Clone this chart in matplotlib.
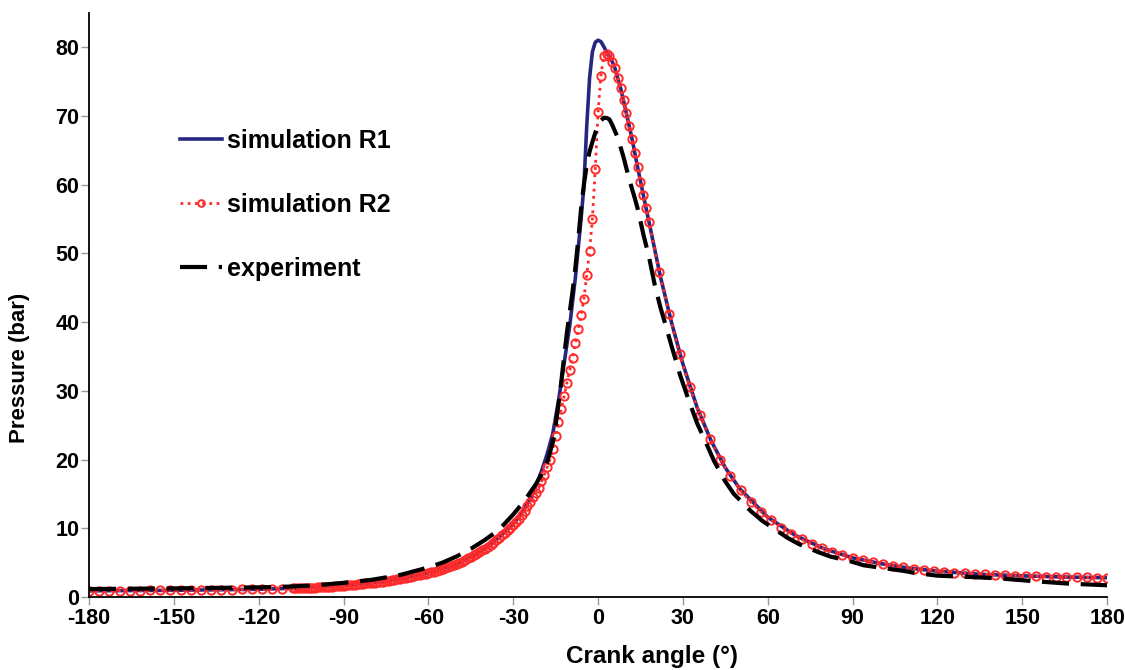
import numpy as np
import matplotlib
matplotlib.use("Agg")
import matplotlib.pyplot as plt

# --- data ------------------------------------------------------------------
# simulation R1 (solid line)
r1_angle = [-180, -150, -120, -105, -90, -80, -70, -60, -50, -45, -40, -36, -32, -29,
            -26, -24, -22, -20, -18, -16, -14, -12, -10, -8, -7, -6, -5, -4, -3, -2,
            -1, 0, 1, 2, 3, 4, 5, 6, 8, 10, 12, 14, 16, 18, 22, 26, 30, 35, 40, 45,
            50, 60, 70, 80, 90, 100, 110, 120, 135, 150, 165, 180]
r1_p = [0.9, 0.97, 1.12, 1.3, 1.68, 2.05, 2.65, 3.5, 4.75, 5.8, 7.0, 8.3, 9.8, 11.1,
        12.9, 14.2, 16.2, 18.3, 20.8, 23.8, 28.5, 34.0, 39.5, 46.5, 50.8, 55.0, 59.8,
        68.5, 75.5, 79.3, 80.7, 81.0, 80.8, 80.1, 79.3, 78.6, 77.9, 76.9, 74.0, 70.4,
        66.7, 62.5, 58.5, 54.6, 46.7, 39.9, 33.9, 27.6, 22.7, 18.8, 15.8, 11.6, 8.9,
        7.0, 5.7, 4.85, 4.2, 3.75, 3.3, 3.07, 2.9, 2.8]

# simulation R2 (dotted line + markers): coarse left tail, 1 deg around TDC, coarse right tail
r2_angle_left = np.round(np.arange(-180, -107.9, 3.6), 1)
r2_p_left = [0.90, 0.90, 0.91, 0.92, 0.93, 0.94, 0.95, 0.96, 0.97, 0.98, 1.00,
             1.01, 1.03, 1.05, 1.07, 1.09, 1.11, 1.14, 1.17, 1.20, 1.24]
r2_angle_mid = np.arange(-107, 19, 1)
r2_p_mid = [
    # -107 .. -98
    1.25, 1.27, 1.29, 1.31, 1.32, 1.34, 1.35, 1.37, 1.39, 1.41,
    # -97 .. -88
    1.43, 1.45, 1.48, 1.51, 1.54, 1.57, 1.60, 1.64, 1.68, 1.72,
    # -87 .. -78
    1.76, 1.80, 1.85, 1.89, 1.93, 1.97, 2.01, 2.05, 2.10, 2.15,
    # -77 .. -68
    2.20, 2.25, 2.30, 2.36, 2.43, 2.50, 2.57, 2.65, 2.73, 2.81,
    # -67 .. -58
    2.89, 2.97, 3.05, 3.14, 3.23, 3.32, 3.41, 3.50, 3.60, 3.70,
    # -57 .. -48
    3.80, 3.90, 4.00, 4.15, 4.30, 4.45, 4.60, 4.75, 4.95, 5.15,
    # -47 .. -38
    5.40, 5.60, 5.80, 6.05, 6.30, 6.55, 6.80, 7.00, 7.30, 7.60,
    # -37 .. -28
    7.90, 8.25, 8.60, 8.95, 9.30, 9.70, 10.1, 10.5, 10.9, 11.4,
    # -27 .. -18
    11.9, 12.5, 13.2, 13.8, 14.5, 15.1, 15.8, 16.8, 17.8, 18.9,
    # -17 .. -8
    20.0, 21.6, 23.4, 25.4, 27.4, 29.2, 31.2, 33.0, 34.8, 37.0,
    # -7 .. 2
    39.0, 41.0, 43.4, 46.9, 50.3, 55.0, 62.2, 70.5, 75.8, 78.7,
    # 3 .. 12
    79.0, 78.7, 77.9, 76.9, 75.5, 74.0, 72.3, 70.4, 68.5, 66.7,
    # 13 .. 18
    64.6, 62.5, 60.4, 58.5, 56.6, 54.6]
r2_angle_right = np.round(np.arange(21.6, 180.01, 3.6), 1)
r2_p_right = [47.3, 41.2, 35.3, 30.5, 26.5, 23.0, 20.0, 17.6, 15.5, 13.8,
              12.4, 11.2, 10.1, 9.2, 8.4, 7.7, 7.1, 6.6, 6.1, 5.7,
              5.35, 5.05, 4.8, 4.55, 4.3, 4.1, 3.95, 3.8, 3.65, 3.55,
              3.45, 3.35, 3.3, 3.2, 3.15, 3.1, 3.05, 3.0, 2.95, 2.92,
              2.9, 2.87, 2.85, 2.83, 2.8]

# experiment (dashed line)
exp_angle = [-180, -150, -120, -110, -100, -90, -80, -70, -60, -55, -50, -45, -40,
             -35, -30, -27, -25, -22, -20, -18, -16, -15, -14, -13, -12, -11, -10,
             -9, -8, -7, -6, -5, -4, -3, -2, -1, 0, 1, 2, 3, 4, 5, 7, 9, 11, 13, 14,
             16, 18, 20, 22, 24, 26, 29, 32, 35, 38, 41, 45, 48, 54, 58, 67, 71, 78,
             82, 90, 94, 108, 112, 120, 132, 142, 154, 166, 180]
exp_p = [1.15, 1.25, 1.4, 1.5, 1.7, 2.05, 2.5, 3.2, 4.3, 5.0, 5.9, 7.0, 8.3,
         9.8, 12.0, 13.5, 14.6, 16.4, 17.8, 19.6, 22.5, 25.0, 28.0, 31.3, 35.0, 38.5,
         41.5, 44.5, 48.0, 52.0, 56.5, 60.0, 62.8, 64.8, 66.2, 67.5, 68.6, 69.3, 69.7,
         69.7, 69.5, 68.7, 66.8, 64.0, 60.8, 58.0, 56.5, 52.8, 49.5, 45.5, 42.2, 39.4,
         36.5, 32.3, 28.7, 25.3, 22.6, 19.8, 16.8, 15.0, 12.5, 11.1, 8.6, 7.7, 6.5,
         5.9, 5.1, 4.6, 3.8, 3.5, 3.1, 2.9, 2.7, 2.3, 1.95, 1.7]

x_ticks = np.arange(-180, 181, 30)
y_ticks = np.arange(0, 81, 10)

r2_angle = np.concatenate([r2_angle_left, r2_angle_mid, r2_angle_right])
r2_p = np.concatenate([r2_p_left, r2_p_mid, r2_p_right])

plt.rcParams['font.family'] = ['Liberation Sans', 'DejaVu Sans']
plt.rcParams['font.weight'] = 'bold'
plt.rcParams['axes.unicode_minus'] = False

fig = plt.figure(figsize=(11.25, 6.70), dpi=100)
ax = fig.add_axes([0.0791, 0.109, 0.905, 0.872])

ax.plot(r1_angle, r1_p, color='#262680', lw=2.6, label='simulation R1', zorder=2)
ax.plot(r2_angle, r2_p, color='#ff2a2a', lw=2.0, ls=(0, (1, 1.6)), marker='o',
        ms=6, mfc='none', mec='#ff2a2a', mew=1.4, label='simulation R2', zorder=3)
ax.plot(exp_angle, exp_p, color='black', lw=3.0, ls=(0, (6.5, 2.8)),
        label='experiment', zorder=4)

ax.set_xlim(-180, 180)
ax.set_ylim(0, 85)
ax.set_xticks(x_ticks)
ax.set_yticks(y_ticks)
ax.tick_params(axis='both', colors='#999999', labelcolor='black', labelsize=15.5,
               length=6, width=1, direction='out')
ax.tick_params(axis='x', pad=2)
ax.tick_params(axis='y', pad=1)
for s in ['top', 'right']:
    ax.spines[s].set_visible(False)
for s in ['left', 'bottom']:
    ax.spines[s].set_linewidth(1.3)
    ax.spines[s].set_zorder(5)

ax.set_xlabel('Crank angle (°)', fontsize=17.5, fontweight='bold')
ax.set_ylabel('Pressure (bar)', fontsize=16, fontweight='bold')
ax.xaxis.set_label_coords(0.553, -0.083)
ax.yaxis.set_label_coords(-0.058, 0.392)

leg = ax.legend(loc='upper left', bbox_to_anchor=(0.067, 0.84), frameon=False,
                fontsize=18, handlelength=1.7, handletextpad=0.2,
                labelspacing=1.6, markerscale=0.8)
for t in leg.get_texts():
    t.set_fontweight('bold')

fig.savefig('out.png', dpi=100)
